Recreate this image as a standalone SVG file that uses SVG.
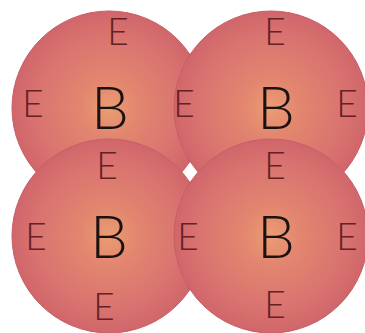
<svg xmlns="http://www.w3.org/2000/svg" width="365" height="333" viewBox="0 0 365 333">
  <defs>
    <radialGradient id="ball" cx="0.5" cy="0.5" r="0.5">
      <stop offset="0" stop-color="#eb9c72"/>
      <stop offset="0.3" stop-color="#e2866f"/>
      <stop offset="0.75" stop-color="#d9736f"/>
      <stop offset="1" stop-color="#d0666b"/>
    </radialGradient>
  </defs>
  <style>
    .ball { fill: url(#ball); stroke: #c95f66; stroke-width: 1; }
    .b { font-family: Lato, "Open Sans", "Liberation Sans", sans-serif; font-weight: 300; font-size: 60px; fill: #1c1212; text-anchor: middle; }
    .e { font-family: Lato, "Open Sans", "Liberation Sans", sans-serif; font-weight: 300; font-size: 37px; fill: #642126; text-anchor: middle; }
  </style>
  <rect width="365" height="333" fill="#ffffff"/>
  <g id="node-tl">
    <circle class="ball" cx="109" cy="108" r="97"/>
    <text class="b" x="110" y="129">B</text>
  </g>
  <g id="node-tr">
    <circle class="ball" cx="271" cy="108" r="97"/>
    <text class="b" x="276" y="129">B</text>
  </g>
  <g id="node-bl">
    <circle class="ball" cx="109" cy="236" r="97"/>
    <text class="b" x="109" y="258">B</text>
  </g>
  <g id="node-br">
    <circle class="ball" cx="271" cy="236" r="97"/>
    <text class="b" x="276" y="258">B</text>
  </g>
  <g id="labels">
    <text class="e" x="118" y="45">E</text>
    <text class="e" x="275" y="45">E</text>
    <text class="e" x="33" y="117">E</text>
    <text class="e" x="184" y="117">E</text>
    <text class="e" x="347" y="117">E</text>
    <text class="e" x="107" y="179">E</text>
    <text class="e" x="275" y="179">E</text>
    <text class="e" x="36" y="250">E</text>
    <text class="e" x="188" y="250">E</text>
    <text class="e" x="347" y="250">E</text>
    <text class="e" x="104" y="320">E</text>
    <text class="e" x="275" y="318">E</text>
  </g>
</svg>
